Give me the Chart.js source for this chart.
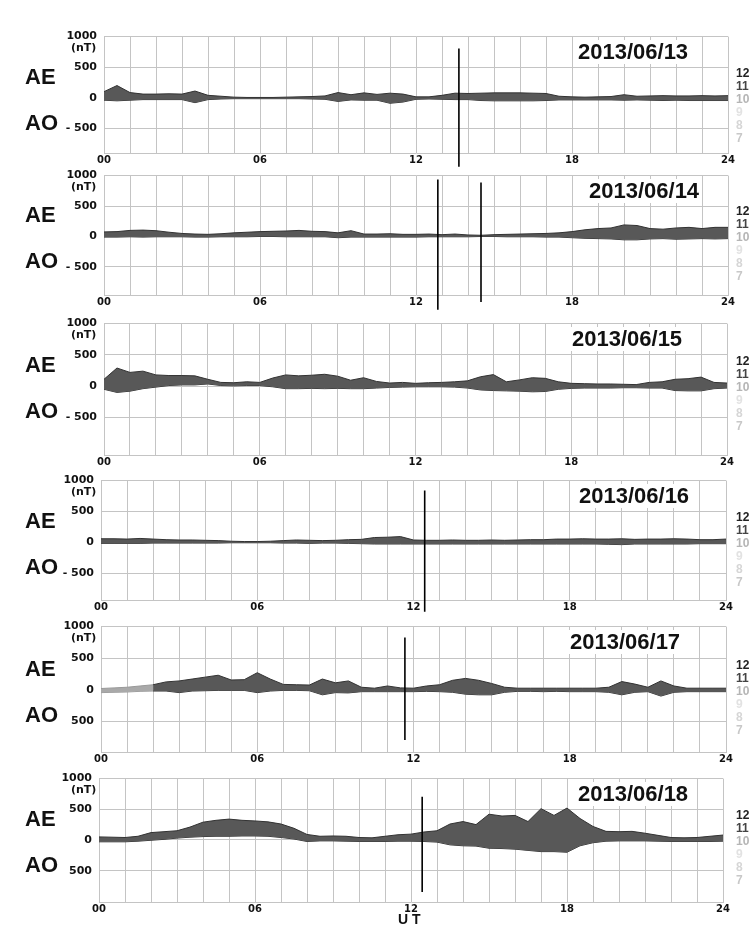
<!DOCTYPE html>
<html>
<head>
<meta charset="utf-8">
<script src="https://cdn.jsdelivr.net/npm/chart.js@4.4.1/dist/chart.umd.min.js"></script>
<style>
html,body{margin:0;padding:0;background:#fff;}
body{width:752px;height:936px;position:relative;overflow:hidden;font-family:"Liberation Sans",Arial,sans-serif;}
.panel{position:absolute;left:0;width:752px;}
.lab{position:absolute;font-weight:bold;white-space:nowrap;line-height:1;transform:translateY(-50%);color:#111;}
.big{font-size:22px;}
.date{font-size:22px;background:#fff;padding:1px 3px;}
.num{font-family:"DejaVu Sans",sans-serif;font-size:11px;}
.side{font-size:12px;}
</style>
</head>
<body>
<script>
// hours of day, every 30 min
const HOURS=[0,0.5,1,1.5,2,2.5,3,3.5,4,4.5,5,5.5,6,6.5,7,7.5,8,8.5,9,9.5,10,10.5,11,11.5,
  12,12.5,13,13.5,14,14.5,15,15.5,16,16.5,17,17.5,18,18.5,19,19.5,20,20.5,21,21.5,22,22.5,23,23.5,24];
const DATES=['2013/06/13','2013/06/14','2013/06/15','2013/06/16','2013/06/17','2013/06/18'];
const X_TICKS=['00','06','12','18','24'];
const SIDE_NUMS=['12','11','10','9','8','7'];

// upper (AU) and lower (AL) envelope, nT
const AU_13=[100,200,85,60,60,65,60,110,40,25,10,5,5,5,10,15,20,30,85,50,80,55,75,60,
  15,15,40,75,70,75,80,80,80,75,70,25,15,10,15,20,50,25,30,35,30,30,35,30,35];
const AL_13=[-40,-50,-40,-30,-30,-30,-30,-80,-30,-20,-15,-15,-15,-15,-15,-15,-20,-25,-60,-35,-40,-40,-90,-70,
  -25,-20,-25,-30,-30,-45,-50,-50,-50,-50,-45,-35,-35,-35,-35,-35,-40,-35,-40,-45,-40,-45,-45,-45,-45];
const AU_14=[75,80,100,105,95,70,50,40,35,45,60,70,80,85,90,100,85,80,60,95,40,40,45,35,
  35,40,30,40,25,20,30,35,40,45,50,60,80,110,130,140,190,180,130,120,140,150,130,150,150];
const AL_14=[-10,-10,-5,-10,-5,-5,-5,-10,-10,-5,-5,-5,0,0,-5,-5,-5,-5,-20,-10,-10,-10,-10,-10,
  -10,-5,-5,-5,-5,0,0,-5,-5,-5,-10,-10,-20,-30,-35,-40,-55,-55,-40,-35,-45,-40,-35,-40,-35];
const AU_15=[110,290,220,240,180,170,170,165,110,60,55,70,60,130,180,165,175,190,160,95,135,75,50,60,
  45,55,60,70,85,150,185,70,100,135,125,70,45,40,35,35,30,25,60,70,110,120,145,60,50];
const AL_15=[-50,-100,-80,-40,-15,10,20,20,35,10,5,10,10,-10,-40,-40,-35,-40,-35,-40,-40,-30,-20,-15,
  -10,-10,-10,-15,-30,-60,-70,-75,-80,-90,-85,-50,-35,-30,-30,-30,-25,-25,-30,-30,-70,-75,-75,-40,-30];
const AU_16=[60,60,55,65,55,45,40,40,35,30,20,15,15,20,30,40,35,30,35,45,50,80,85,95,
  40,35,35,40,35,35,40,35,40,45,45,55,55,60,55,55,60,50,55,55,60,55,45,45,55];
const AL_16=[-15,-15,-15,-15,-10,-10,-10,-10,-10,-10,-5,-5,-5,-5,-10,-10,-15,-10,-10,-15,-20,-25,-25,-25,
  -25,-25,-25,-25,-25,-25,-25,-25,-25,-25,-25,-25,-25,-25,-25,-30,-35,-25,-25,-25,-25,-25,-20,-20,-20];
const AU_17=[20,30,40,60,80,125,140,170,200,230,155,160,270,170,85,80,75,170,110,140,40,25,60,30,
  25,60,80,150,180,150,100,40,25,25,25,25,25,25,25,40,130,90,40,140,60,25,25,25,25];
const AL_17=[-45,-40,-35,-25,-20,-20,-45,-20,-15,-10,-10,-10,-45,-20,-10,-10,-15,-80,-45,-50,-30,-30,-30,-30,
  -30,-25,-30,-40,-70,-80,-80,-40,-25,-25,-30,-25,-30,-30,-30,-40,-80,-40,-30,-100,-40,-30,-30,-30,-30];
const AU_18=[50,45,40,60,120,135,150,210,290,320,340,320,310,295,260,190,90,60,65,60,40,35,60,85,
  95,130,150,260,300,250,420,390,400,300,510,400,520,350,220,140,135,140,110,75,40,35,40,60,80];
const AL_18=[-30,-30,-30,-20,-5,10,30,45,55,60,60,65,65,60,40,15,-25,-15,-15,-20,-25,-25,-25,-20,
  -20,-25,-35,-80,-95,-100,-135,-140,-150,-170,-190,-190,-200,-95,-45,-20,-15,-15,-15,-20,-25,-25,-25,-25,-20];

const AU=[AU_13,AU_14,AU_15,AU_16,AU_17,AU_18];
const AL=[AL_13,AL_14,AL_15,AL_16,AL_17,AL_18];
// hours drawn in lighter grey (fewer stations)
const LIGHT=[[],[],[],[],[[0,2]],[]];

// vertical event lines: hour, top and bottom value (nT)
const MARK_HOURS=[[13.65],[12.84,14.5],[],[12.43],[11.67],[12.43]];
const MARK_TOP=[[806],[935,888],[],[840],[828],[706]];
const MARK_BOTTOM=[[-1129],[-1204,-1075],[],[-1121],[-797],[-850]];

// panel frames
const PLOT_TOP=[35,174,322,479,625,777];
const PLOT_BOTTOM=[153,295,455,600,752,902];
const PLOT_LEFT=[104,104,104,101,101,99];
const PLOT_RIGHT=[728,728,727,726,726,723];
const Y_MIN=[-903,-961,-1100,-930,-985,-1011];
const DATE_X=[578,589,572,579,570,578];

const GRID='#c4c4c4', PADT=12, XH=20;

function lab(txt,cls,x,y,extra){
  const d=document.createElement('div');d.className='lab '+cls;d.textContent=txt;
  d.style.left=x+'px';d.style.top=y+'px';
  if(extra)Object.assign(d.style,extra);
  document.body.appendChild(d);return d;
}

DATES.forEach((date,p)=>{
  const top=PLOT_TOP[p]-PADT, h=PLOT_BOTTOM[p]-PLOT_TOP[p]+PADT+XH;
  const wrap=document.createElement('div');wrap.className='panel';
  wrap.style.top=top+'px';wrap.style.height=h+'px';
  const cv=document.createElement('canvas');wrap.appendChild(cv);document.body.appendChild(wrap);

  const inLight=x=>LIGHT[p].some(([a,b])=>x>=a&&x<b);
  const datasets=[
    {data:HOURS.map((x,i)=>({x,y:AU[p][i]})),borderColor:'#333',borderWidth:1,backgroundColor:'#585858',
     fill:'+1',pointRadius:0,order:2,
     segment:{backgroundColor:c=>inLight(c.p0.parsed.x)?'#a9a9a9':undefined,
              borderColor:c=>inLight(c.p0.parsed.x)?'#999':undefined}},
    {data:HOURS.map((x,i)=>({x,y:AL[p][i]})),borderColor:'#333',borderWidth:1,pointRadius:0,fill:false,order:2,
     segment:{borderColor:c=>inLight(c.p0.parsed.x)?'#999':undefined}}
  ];
  MARK_HOURS[p].forEach((m,k)=>datasets.push({
    data:[{x:m,y:MARK_TOP[p][k]},{x:m,y:MARK_BOTTOM[p][k]}],
    borderColor:'#000',borderWidth:1.6,pointRadius:0,fill:false,clip:false,order:1}));

  const neg=p<4?'- 500':'500';
  const ch=new Chart(cv,{type:'line',data:{datasets},
    options:{responsive:true,maintainAspectRatio:false,animation:false,
      layout:{padding:{top:PADT,left:0,right:752-PLOT_RIGHT[p],bottom:0}},
      plugins:{legend:{display:false},tooltip:{enabled:false}},
      scales:{
        x:{type:'linear',min:0,max:24,
           ticks:{stepSize:1,autoSkip:false,maxRotation:0,padding:1,color:'#111',
             font:{family:'DejaVu Sans',weight:'bold',size:10},
             callback:v=>v%6===0?X_TICKS[v/6]:''},
           grid:{color:GRID,drawTicks:false},border:{color:GRID},
           afterFit:s=>{s.height=XH;}},
        y:{min:Y_MIN[p],max:1000,
           afterBuildTicks:s=>{s.ticks=[1000,500,0,-500].map(v=>({value:v}));},
           ticks:{padding:7,color:'#111',font:{family:'DejaVu Sans',weight:'bold',size:11},
             callback:v=>v===-500?neg:String(v)},
           grid:{color:GRID,drawTicks:false},border:{color:GRID},
           afterFit:s=>{s.width=PLOT_LEFT[p];}}
      }}});

  const zy=top+ch.scales.y.getPixelForValue(0);
  lab('AE','big',25,zy-21);
  lab('AO','big',25,zy+25);
  lab('(nT)','num',71,PLOT_TOP[p]+12);
  lab(date,'date',DATE_X[p]-3,PLOT_TOP[p]+17);
  const cols=['#222','#444','#b5b5b5','#e2e2e2','#d6d6d6','#c8c8c8'];
  SIDE_NUMS.forEach((n,k)=>lab(n,'side',736,zy-25+k*13,{color:cols[k]}));
});
lab('U T','big',398,919,{fontSize:'14px'});
</script>
</body>
</html>
